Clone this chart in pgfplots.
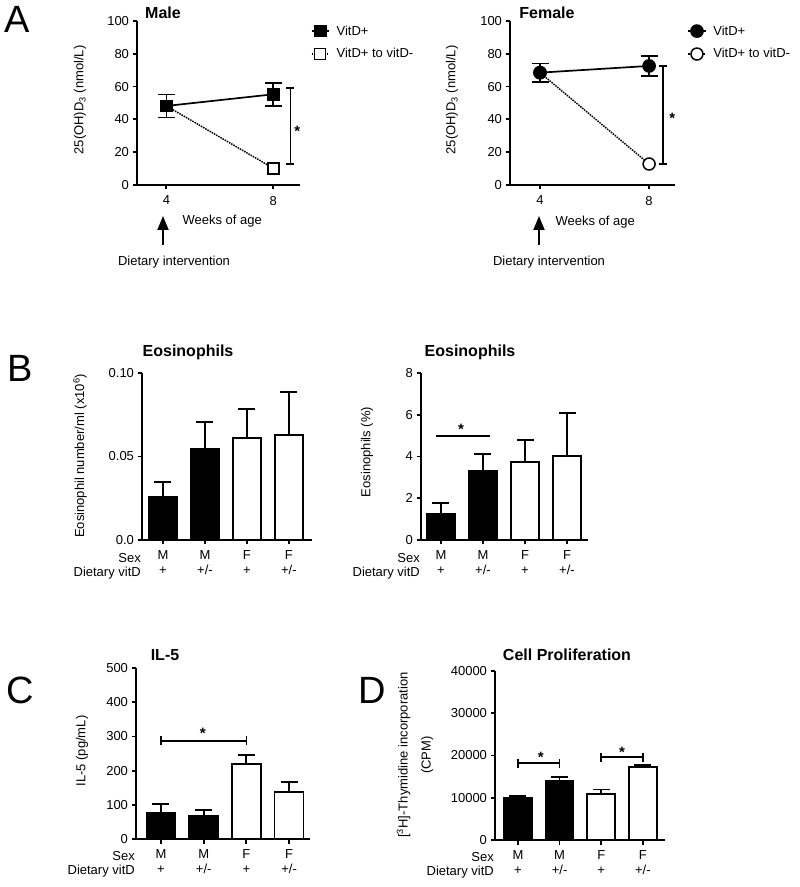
\documentclass[border=0pt]{standalone}
\usepackage{fontspec}
\setmainfont{Liberation Sans}
\usepackage{pgfplots}
\pgfplotsset{compat=1.18}
\usetikzlibrary{arrows.meta}

\newcommand{\tl}{\fontsize{13}{15}\selectfont}
\newcommand{\ttl}{\fontsize{16}{18}\bfseries\selectfont}

\tikzset{sigstar/.style={font=\fontsize{15}{15}\bfseries\selectfont, inner sep=0pt, yshift=-3pt}}

\pgfplotsset{
  gp/.style={
    scale only axis,
    axis lines*=left,
    axis line style={-, line width=1.8pt},
    every tick/.style={line width=1.8pt, black},
    tick align=outside,
    major tick length=4.5pt,
    tick label style={font=\tl},
    /pgf/number format/assume math mode=true,
    scaled ticks=false,
    clip=false,
  },
  gpbar/.style={
    gp, xtick={0,1,2,3},
    xticklabels={{M\\+},{M\\+/-},{F\\+},{F\\+/-}},
    xticklabel style={align=center, font=\tl, yshift=-3pt},
  },
  barM/.style={ybar, bar shift=0pt, fill=black, draw=black, line width=1.8pt,
    /pgfplots/error bars/y dir=plus, /pgfplots/error bars/y explicit,
    /pgfplots/error bars/error bar style={line width=1.8pt, black},
    /pgfplots/error bars/error mark options={rotate=90, line width=1.8pt, mark size=8.5pt, black}},
  barF/.style={barM, fill=white},
  leg/.style={legend style={at={#1}, anchor=north west, draw=none, fill=none,
    font=\tl, row sep=8pt, column sep=5pt, inner sep=0pt, cells={anchor=west}}},
}

\begin{document}
\begin{tikzpicture}[x=1pt,y=1pt]
\path[use as bounding box] (0,0) rectangle (800,887);

% ---------- A Male ----------
\begin{axis}[gp, at={(137pt,702pt)}, anchor=south west, width=163pt, height=164pt,
  xmin=2.9, xmax=9.0, ymin=0, ymax=100, xtick={4,8}, ytick={0,20,40,60,80,100},
  xticklabel style={yshift=-3pt},
  reverse legend, leg={(1.065,0.985)}]
\addplot[black, line width=1.5pt, densely dotted, mark=square*,
  mark options={solid, fill=white, line width=1.5pt}, mark size=5.5pt]
  coordinates {(4,48.2) (8,10.2)};
\addlegendentry{VitD+ to vitD-}
\addplot[black, line width=1.7pt, mark=square*, mark size=5.5pt,
  error bars/.cd, y dir=both, y explicit,
  error bar style={line width=1.7pt},
  error mark options={rotate=90, line width=1.7pt, mark size=8.5pt}]
  coordinates {(4,48.2) +- (0,7) (8,55.3) +- (0,7.1)};
\addlegendentry{VitD+}
\draw[line width=1.7pt] (axis cs:8.64,12.6) -- (axis cs:8.64,59.3);
\draw[line width=1.7pt] ([xshift=-4pt]axis cs:8.64,12.6) -- ([xshift=4pt]axis cs:8.64,12.6);
\draw[line width=1.7pt] ([xshift=-4pt]axis cs:8.64,59.3) -- ([xshift=4pt]axis cs:8.64,59.3);
\node[sigstar] at (axis cs:8.9,34.7) {*};
\end{axis}

% ---------- A Female ----------
\begin{axis}[gp, at={(510pt,702pt)}, anchor=south west, width=165pt, height=164pt,
  xmin=2.9, xmax=8.95, ymin=0, ymax=100, xtick={4,8}, ytick={0,20,40,60,80,100},
  xticklabel style={yshift=-3pt},
  reverse legend, leg={(1.075,0.985)}]
\addplot[black, line width=1.5pt, densely dotted, mark=*,
  mark options={solid, fill=white, line width=1.5pt}, mark size=6pt]
  coordinates {(4,68.5) (8,12.8)};
\addlegendentry{VitD+ to vitD-}
\addplot[black, line width=1.7pt, mark=*, mark size=6pt,
  error bars/.cd, y dir=both, y explicit,
  error bar style={line width=1.7pt},
  error mark options={rotate=90, line width=1.7pt, mark size=8.5pt}]
  coordinates {(4,68.5) +- (0,5.6) (8,72.6) +- (0,6.1)};
\addlegendentry{VitD+}
\draw[line width=1.7pt] (axis cs:8.51,12.8) -- (axis cs:8.51,72.6);
\draw[line width=1.7pt] ([xshift=-4pt]axis cs:8.51,12.8) -- ([xshift=4pt]axis cs:8.51,12.8);
\draw[line width=1.7pt] ([xshift=-4pt]axis cs:8.51,72.6) -- ([xshift=4pt]axis cs:8.51,72.6);
\node[sigstar] at (axis cs:8.85,42.7) {*};
\end{axis}

% ---------- B left ----------
\begin{axis}[gpbar, at={(142pt,347pt)}, anchor=south west, width=170pt, height=167pt,
  xmin=-0.5, xmax=3.55, ymin=0, ymax=0.10, ytick={0,0.05,0.10},
  yticklabels={0.0,0.05,0.10}]
\addplot[barM, bar width=28pt] coordinates {(0,0.0257) +- (0,0.009) (1,0.0545) +- (0,0.0162)};
\addplot[barF, bar width=28pt] coordinates {(2,0.061) +- (0,0.0174) (3,0.0629) +- (0,0.0257)};
\end{axis}

% ---------- B right ----------
\begin{axis}[gpbar, at={(421pt,347pt)}, anchor=south west, width=167pt, height=167pt,
  xmin=-0.476, xmax=3.5, ymin=0, ymax=8, ytick={0,2,4,6,8}]
\addplot[barM, bar width=28pt] coordinates {(0,1.25) +- (0,0.52) (1,3.3) +- (0,0.82)};
\addplot[barF, bar width=28pt] coordinates {(2,3.74) +- (0,1.05) (3,4.02) +- (0,2.06)};
\draw[line width=1.7pt] (axis cs:-0.12,4.98) -- (axis cs:1.17,4.98);
\node[sigstar] at (axis cs:0.48,5.46) {*};
\end{axis}

% ---------- C ----------
\begin{axis}[gpbar, at={(136pt,48pt)}, anchor=south west, width=174pt, height=171pt,
  xmin=-0.585, xmax=3.49, ymin=0, ymax=500, ytick={0,100,200,300,400,500}]
\addplot[barM, bar width=29pt] coordinates {(0,76) +- (0,26) (1,67) +- (0,18)};
\addplot[barF, bar width=29pt] coordinates {(2,219) +- (0,27) (3,137) +- (0,30)};
\draw[line width=1.7pt] (axis cs:0,287) -- (axis cs:2,287);
\draw[line width=1.7pt] ([yshift=-4.5pt]axis cs:0,287) -- ([yshift=4.5pt]axis cs:0,287);
\draw[line width=1.7pt] ([yshift=-4.5pt]axis cs:2,287) -- ([yshift=4.5pt]axis cs:2,287);
\node[sigstar] at (axis cs:0.98,319) {*};
\end{axis}

% ---------- D ----------
\begin{axis}[gpbar, at={(495pt,47pt)}, anchor=south west, width=170pt, height=169pt,
  xmin=-0.55, xmax=3.53, ymin=0, ymax=40000, ytick={0,10000,20000,30000,40000},
  yticklabels={0,10000,20000,30000,40000}]
\addplot[barM, bar width=28pt] coordinates {(0,9950) +- (0,500) (1,13900) +- (0,950)};
\addplot[barF, bar width=28pt] coordinates {(2,10850) +- (0,1100) (3,17200) +- (0,600)};
\draw[line width=1.7pt] (axis cs:0,18200) -- (axis cs:1,18200);
\draw[line width=1.7pt] ([yshift=-4.5pt]axis cs:0,18200) -- ([yshift=4.5pt]axis cs:0,18200);
\draw[line width=1.7pt] ([yshift=-4.5pt]axis cs:1,18200) -- ([yshift=4.5pt]axis cs:1,18200);
\node[sigstar] at (axis cs:0.55,20350) {*};
\draw[line width=1.7pt] (axis cs:2,19640) -- (axis cs:3,19640);
\draw[line width=1.7pt] ([yshift=-4.5pt]axis cs:2,19640) -- ([yshift=4.5pt]axis cs:2,19640);
\draw[line width=1.7pt] ([yshift=-4.5pt]axis cs:3,19640) -- ([yshift=4.5pt]axis cs:3,19640);
\node[sigstar] at (axis cs:2.5,21500) {*};
\end{axis}

% ---------- panel letters ----------
\foreach \L/\px/\py in {A/17/868, B/20/519, C/20/197, D/372/197}
  \node[font=\fontsize{38}{38}\selectfont] at (\px,\py) {\L};

% ---------- titles ----------
\node[font=\ttl] at (163,874) {Male};
\node[font=\ttl] at (547,874) {Female};
\node[font=\ttl] at (188,535) {Eosinophils};
\node[font=\ttl] at (470,535) {Eosinophils};
\node[font=\ttl] at (165,232) {IL-5};
\node[font=\ttl] at (567,232) {Cell Proliferation};

% ---------- y labels ----------
\node[font=\tl, rotate=90] at (80,787) {25(OH)D\textsubscript{3} (nmol/L)};
\node[font=\tl, rotate=90] at (452,787) {25(OH)D\textsubscript{3} (nmol/L)};
\node[font=\tl, rotate=90] at (80,431) {Eosinophil number/ml (x10\textsuperscript{6})};
\node[font=\tl, rotate=90] at (367,435) {Eosinophils (\%)};
\node[font=\tl, rotate=90] at (82,136) {IL-5 (pg/mL)};
\node[font=\fontsize{13}{23}\selectfont, rotate=90, align=center] at (415,132)
  {[\textsuperscript{3}H]-Thymidine incorporation\\(CPM)};

% ---------- row labels ----------
\foreach \x/\y in {142/329, 421/329, 136/31, 495/30}
  \node[font=\tl, anchor=east, inner sep=1pt] at (\x,\y) {Sex};
\foreach \x/\y in {142/314, 421/314, 136/16, 495/15}
  \node[font=\tl, anchor=east, inner sep=1pt] at (\x,\y) {Dietary vitD};

% ---------- A annotations ----------
\draw[line width=1.8pt, -{Triangle[width=11pt,length=14pt]}] (163,642) -- (163,671);
\draw[line width=1.8pt, -{Triangle[width=11pt,length=14pt]}] (539,642) -- (539,671);
\node[font=\tl, anchor=west] at (179,666) {Weeks of age};
\node[font=\tl, anchor=west] at (552,665) {Weeks of age};
\node[font=\tl] at (174,625) {Dietary intervention};
\node[font=\tl] at (549,625) {Dietary intervention};
\end{tikzpicture}
\end{document}
